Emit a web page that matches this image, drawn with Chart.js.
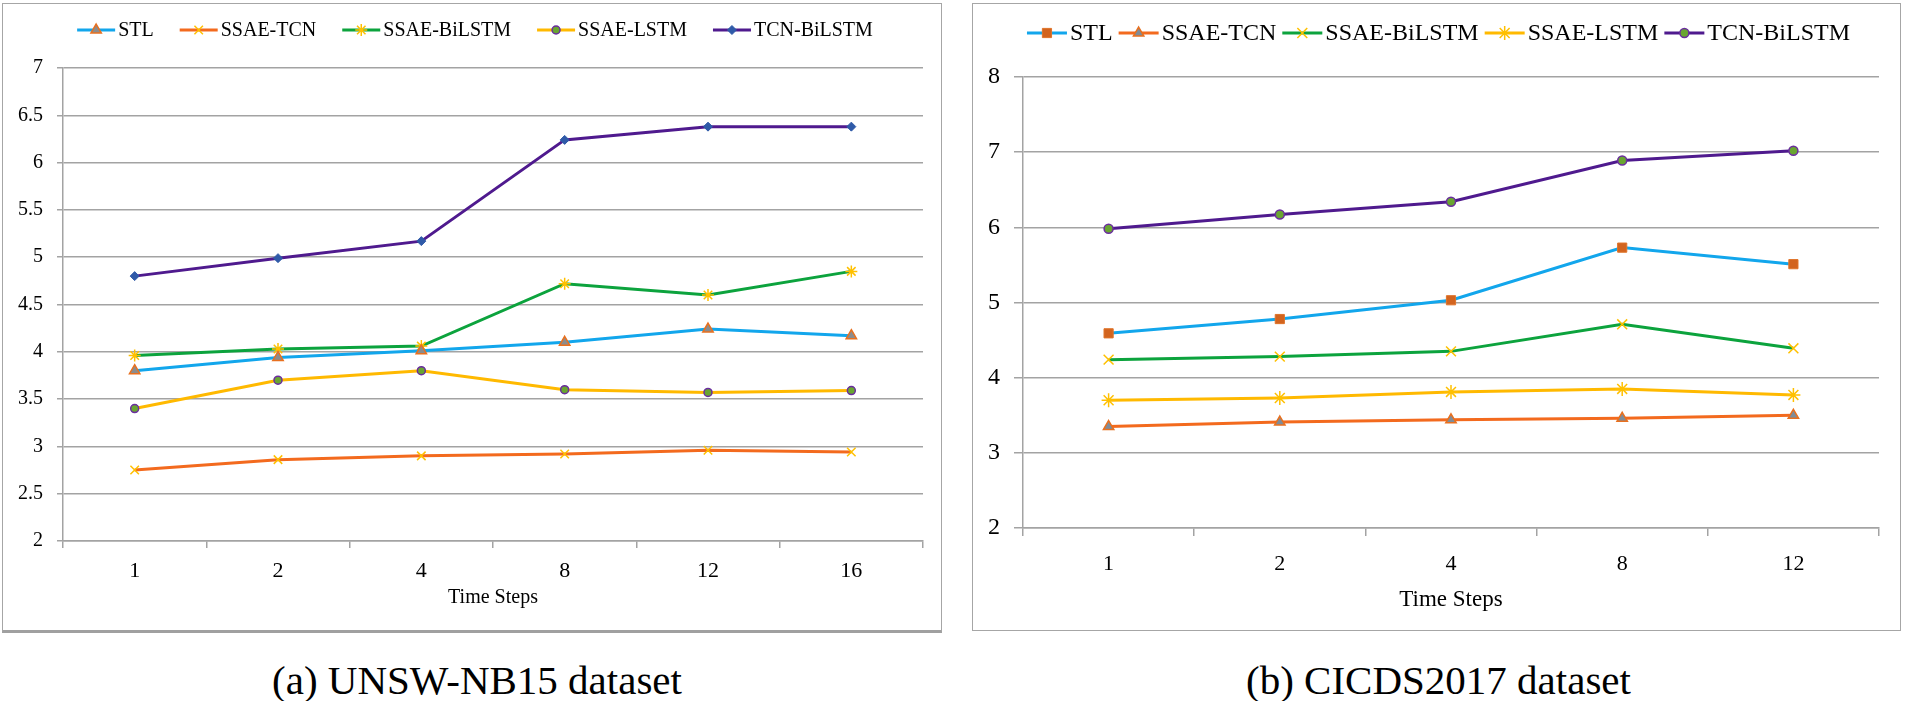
<!DOCTYPE html>
<html lang="en">
<head>
<meta charset="UTF-8">
<title>Time Steps comparison</title>
<script src="https://cdn.jsdelivr.net/npm/chart.js"></script>
<style>
  body { margin: 0; background: #fff; width: 1905px; height: 701px; position: relative; overflow: hidden;
         font-family: 'Liberation Serif', 'Times New Roman', serif; }
  .panel { position: absolute; top: 3px; border: 1px solid #a6a6a6; background: #fff; }
  #panelA { left: 2px; width: 938px; height: 626px; border-bottom: 3px solid #a0a0a0; }
  #panelB { left: 972px; width: 927px; height: 626px; }
  canvas { display: block; }
  .caption { position: absolute; top: 654px; font-size: 41px; line-height: 52px; text-align: center; color: #000; }
</style>
</head>
<body>
<div class="panel" id="panelA"><canvas id="chartA" width="938" height="626"></canvas></div>
<div class="panel" id="panelB"><canvas id="chartB" width="927" height="626"></canvas></div>
<div class="caption" style="left:6px;width:942px;">(a) UNSW-NB15 dataset</div>
<div class="caption" style="left:974px;width:929px;">(b) CICDS2017 dataset</div>

<script>
// series names and x categories
const seriesNames = ['STL', 'SSAE-TCN', 'SSAE-BiLSTM', 'SSAE-LSTM', 'TCN-BiLSTM'];
const stepsA = ['1', '2', '4', '8', '12', '16'];
const stepsB = ['1', '2', '4', '8', '12'];

// (a) UNSW-NB15
const stlA        = [3.80, 3.94, 4.01, 4.10, 4.24, 4.17];
const ssaeTcnA    = [2.75, 2.86, 2.90, 2.92, 2.96, 2.94];
const ssaeBilstmA = [3.96, 4.03, 4.06, 4.72, 4.60, 4.85];
const ssaeLstmA   = [3.40, 3.70, 3.80, 3.60, 3.57, 3.59];
const tcnBilstmA  = [4.80, 4.99, 5.17, 6.24, 6.38, 6.38];

// (b) CICDS2017
const stlB        = [4.59, 4.78, 5.03, 5.73, 5.51];
const ssaeTcnB    = [3.35, 3.41, 3.44, 3.46, 3.50];
const ssaeBilstmB = [4.24, 4.28, 4.35, 4.71, 4.39];
const ssaeLstmB   = [3.70, 3.73, 3.81, 3.85, 3.77];
const tcnBilstmB  = [5.98, 6.17, 6.34, 6.89, 7.02];

// y tick labels
const yTicksA = [2, 2.5, 3, 3.5, 4, 4.5, 5, 5.5, 6, 6.5, 7];
const yTicksB = [2, 3, 4, 5, 6, 7, 8];

const SERIF = "'Liberation Serif', 'Times New Roman', serif";
const GRID = '#a3a3a3';

const LBLUE = '#12a6ec', ORANGE = '#f36a1e', GREEN = '#0ca33d', GOLD = '#ffb900', PURPLE = '#4f1a8e';

// line + marker look of each series (per panel)
const stylesA = [
  { line: LBLUE,  style: 'triangle', r: 6, fill: '#8c8c8c', edge: '#e8701f', bw: 1.5 },
  { line: ORANGE, style: 'crossRot', r: 6, fill: GOLD,      edge: '#ffc000', bw: 1.5 },
  { line: GREEN,  style: 'star',     r: 6, fill: GOLD,      edge: '#ffc000', bw: 1.5 },
  { line: GOLD,   style: 'circle',   r: 4, fill: '#69a531', edge: '#6a2d9f', bw: 1.5 },
  { line: PURPLE, style: 'rectRot',  r: 4.5, fill: '#2f5aa8', edge: '#2f5aa8', bw: 1 }
];
const stylesB = [
  { line: LBLUE,  style: 'rect',     r: 6.5, fill: '#d2641f', edge: '#e0742a', bw: 1 },
  { line: ORANGE, style: 'triangle', r: 6,   fill: '#7f8c99', edge: '#e8701f', bw: 1.5 },
  { line: GREEN,  style: 'crossRot', r: 7,   fill: GOLD,      edge: '#ffc000', bw: 1.5 },
  { line: GOLD,   style: 'star',     r: 7,   fill: GOLD,      edge: '#ffc000', bw: 1.5 },
  { line: PURPLE, style: 'circle',   r: 4.5, fill: '#69a531', edge: '#6a2d9f', bw: 1.5 }
];

// legend: a short line with the marker in its middle, then the name
const lineLegend = {
  id: 'lineLegend',
  afterDraw(chart, args, opts) {
    const ctx = chart.ctx;
    ctx.save();
    ctx.font = opts.size + 'px ' + SERIF;
    const items = chart.data.datasets.map(ds => ({ ds, w: ctx.measureText(ds.label).width }));
    const total = items.reduce((s, it) => s + opts.line + opts.gap + it.w, 0) + opts.spacing * (items.length - 1);
    let x = (chart.width - total) / 2 + opts.shift;
    const y = opts.y;
    items.forEach(({ ds, w }) => {
      ctx.strokeStyle = ds.borderColor;
      ctx.lineWidth = 3;
      ctx.beginPath();
      ctx.moveTo(x, y);
      ctx.lineTo(x + opts.line, y);
      ctx.stroke();
      ctx.fillStyle = ds.pointBackgroundColor;
      ctx.strokeStyle = ds.pointBorderColor;
      ctx.lineWidth = ds.pointBorderWidth;
      Chart.helpers.drawPoint(ctx, {
        pointStyle: ds.pointStyle, radius: ds.pointRadius, rotation: 0, borderWidth: ds.pointBorderWidth
      }, x + opts.line / 2, y);
      ctx.fillStyle = '#000';
      ctx.textAlign = 'left';
      ctx.textBaseline = 'middle';
      ctx.fillText(ds.label, x + opts.line + opts.gap, y + 1);
      x += opts.line + opts.gap + w + opts.spacing;
    });
    ctx.restore();
  }
};

function makeChart(id, steps, values, styles, yTicks, cfg) {
  const datasets = values.map((vals, i) => ({
    label: seriesNames[i],
    data: vals,
    borderColor: styles[i].line,
    backgroundColor: styles[i].line,
    borderWidth: 3,
    tension: 0,
    fill: false,
    pointStyle: styles[i].style,
    pointRadius: styles[i].r,
    pointHoverRadius: styles[i].r,
    pointBackgroundColor: styles[i].fill,
    pointBorderColor: styles[i].edge,
    pointBorderWidth: styles[i].bw
  }));

  return new Chart(document.getElementById(id).getContext('2d'), {
    type: 'line',
    data: { labels: steps, datasets: datasets },
    plugins: [lineLegend],
    options: {
      responsive: false,
      animation: false,
      layout: { padding: cfg.padding },
      plugins: {
        legend: { display: false },
        tooltip: { enabled: false },
        lineLegend: cfg.legend
      },
      scales: {
        x: {
          offset: true,
          grid: { offset: true, drawOnChartArea: false, drawTicks: true, tickLength: cfg.xTickLen, color: GRID, lineWidth: 1.5 },
          border: { display: true, color: GRID, width: 1.5 },
          ticks: { color: '#000', padding: cfg.xPad, font: { family: SERIF, size: 22 } },
          title: { display: true, text: 'Time Steps', color: '#000',
                   font: { family: SERIF, size: cfg.titleSize }, padding: { top: 0, bottom: cfg.titlePad } },
          afterFit: s => { s.height = cfg.xHeight; }
        },
        y: {
          min: yTicks[0],
          max: yTicks[yTicks.length - 1],
          afterBuildTicks: s => { s.ticks = yTicks.map(v => ({ value: v })); },
          grid: { color: GRID, lineWidth: 1.5, tickLength: cfg.yTickLen },
          border: { display: true, color: GRID, width: 1.5 },
          ticks: { color: '#000', padding: cfg.yPad, font: { family: SERIF, size: cfg.yFont },
                   callback: v => String(v) },
          afterFit: s => { s.width = cfg.yWidth; }
        }
      }
    }
  });
}

makeChart('chartA', stepsA, [stlA, ssaeTcnA, ssaeBilstmA, ssaeLstmA, tcnBilstmA], stylesA, yTicksA, {
  padding: { top: 64, left: 0, right: 18, bottom: 14 },
  legend: { y: 26, size: 20, line: 38, gap: 3, spacing: 26, shift: 3 },
  xTickLen: 7, xPad: 10, xHeight: 75, titleSize: 20, titlePad: 6,
  yTickLen: 6, yPad: 14, yFont: 20, yWidth: 60
});

makeChart('chartB', stepsB, [stlB, ssaeTcnB, ssaeBilstmB, ssaeLstmB, tcnBilstmB], stylesB, yTicksB, {
  padding: { top: 73, left: 0, right: 21, bottom: 12 },
  legend: { y: 29, size: 24, line: 40, gap: 3, spacing: 6, shift: 2 },
  xTickLen: 8, xPad: 15, xHeight: 90, titleSize: 23, titlePad: 4,
  yTickLen: 9, yPad: 14, yFont: 24, yWidth: 50
});
</script>
</body>
</html>
